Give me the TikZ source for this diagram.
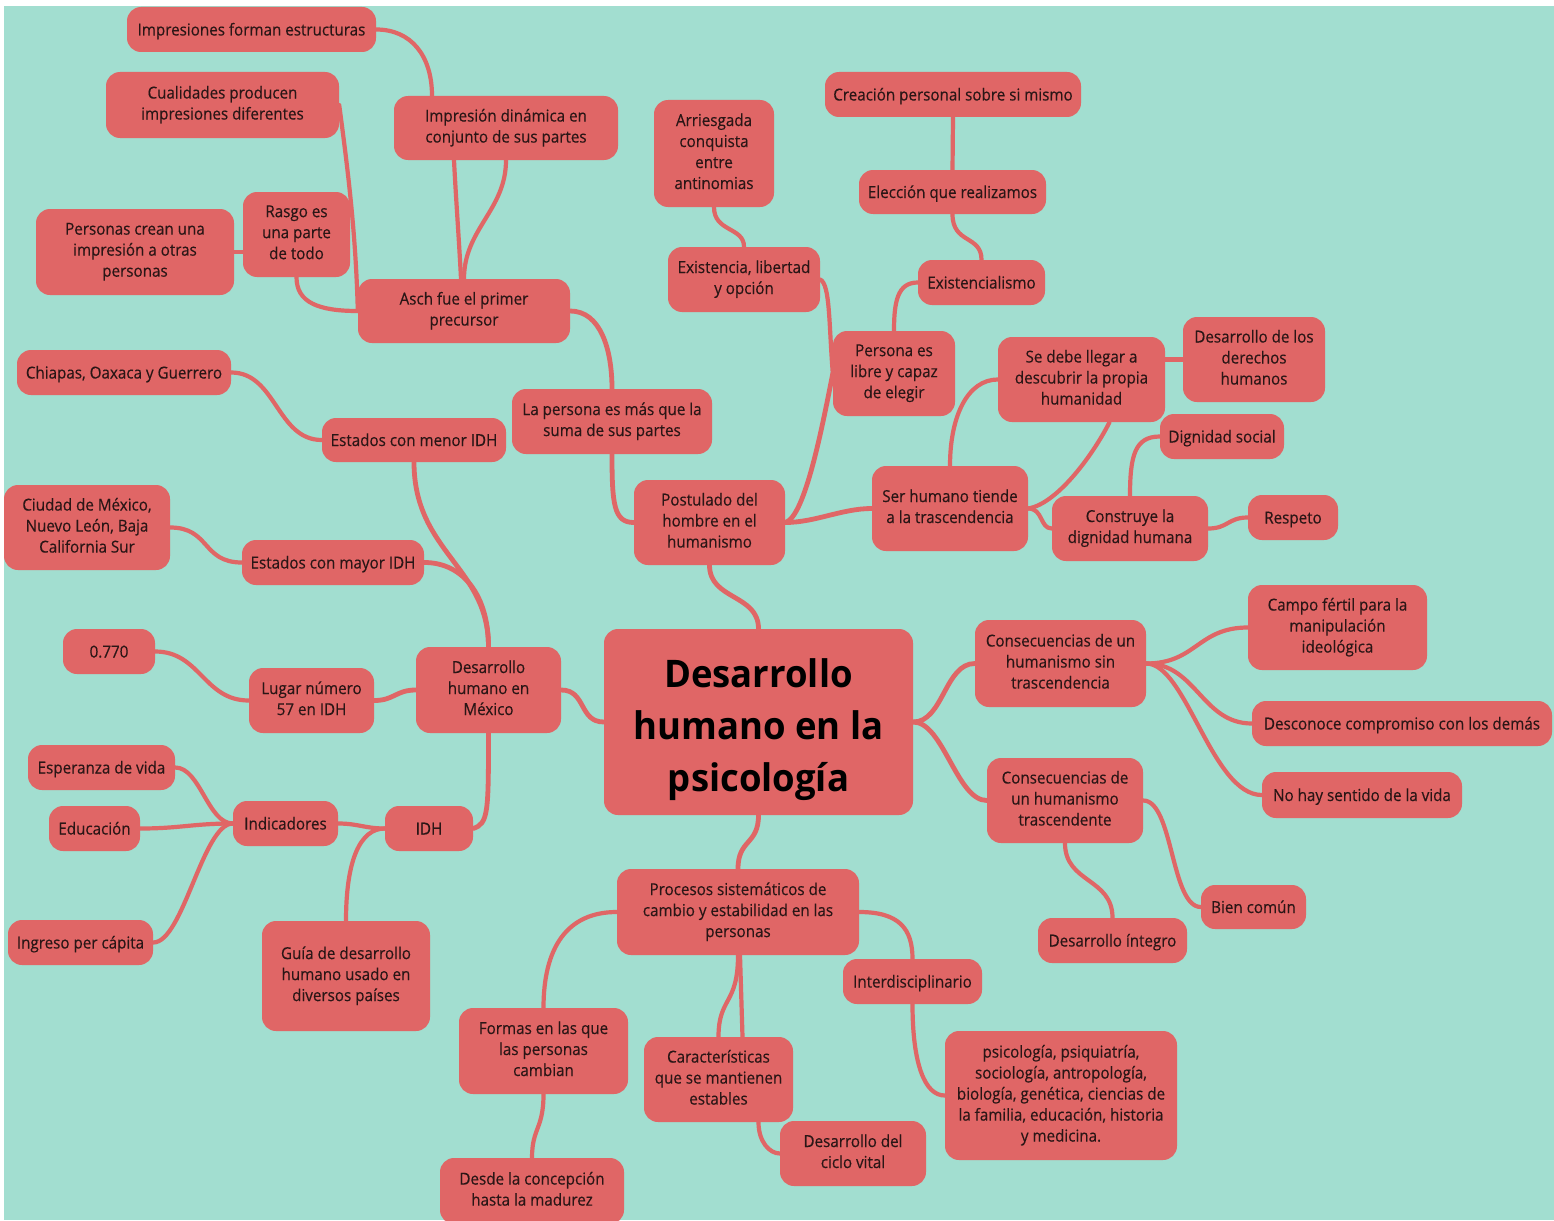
\documentclass[tikz,border=0pt]{standalone}
\usepackage{fontspec}
\setmainfont{Open Sans}[FakeStretch=0.92,FakeBold=0.3]
\newfontfamily\titlefont{Open Sans}[FakeStretch=0.96]
\usetikzlibrary{calc}
\definecolor{bgteal}{HTML}{A2DED0}
\definecolor{nodefill}{HTML}{E06666}
\definecolor{txt}{HTML}{2A1616}
\pgfdeclarelayer{bglayer}
\pgfdeclarelayer{edgelayer}
\pgfsetlayers{bglayer,edgelayer,main}
\begin{document}
\begin{tikzpicture}[x=1pt,y=-1pt,
  nd/.style 2 args={fill=nodefill, text=txt, rounded corners=14pt, align=center, inner sep=0pt,
    minimum width=#1pt, minimum height=#2pt, font=\fontsize{16.5}{21}\selectfont,
    execute at begin node={\rule{0pt}{16.5pt}}, execute at end node={\rule[-4.5pt]{0pt}{0pt}}},
  title/.style={fill=nodefill, text=black, rounded corners=14pt, align=center, inner sep=0pt,
    minimum width=309pt, minimum height=186pt, font=\titlefont\bfseries\fontsize{38}{52}\selectfont},
  edge/.style={draw=nodefill, line width=4.8pt, line cap=round},
  thin edge/.style={draw=nodefill, line width=4.2pt, line cap=round}]
\useasboundingbox (0,0) rectangle (1554,1220);
\begin{pgfonlayer}{bglayer}
\fill[white] (0,0) rectangle (1554,1220);
\fill[bgteal] (4,6) rectangle (1554,1220);
\end{pgfonlayer}

% central
\node[title] (central) at (758.5,722) {\rule{0pt}{44pt}Desarrollo\\humano en la\\psicología\rule[-9pt]{0pt}{0pt}};

% upper left
\node[nd={249}{45}] (imp) at (251.5,29.5) {Impresiones forman estructuras};
\node[nd={233}{66}] (cual) at (222.5,105) {Cualidades producen\\impresiones diferentes};
\node[nd={224}{64}] (dina) at (506,128) {Impresión dinámica en\\conjunto de sus partes};
\node[nd={107}{85}] (rasgo) at (296.5,234.5) {Rasgo es\\una parte\\de todo};
\node[nd={198}{86}] (perscrean) at (135,252) {Personas crean una\\impresión a otras\\personas};
\node[nd={212}{64}] (asch) at (464,311) {Asch fue el primer\\precursor};
\node[nd={200}{65}] (lapersona) at (612,421.5) {La persona es más que la\\suma de sus partes};

% left
\node[nd={214}{45}] (chiapas) at (124,372.5) {Chiapas, Oaxaca y Guerrero};
\node[nd={184}{44}] (menor) at (414,440) {Estados con menor IDH};
\node[nd={166}{85}] (ciudad) at (87,527.5) {Ciudad de México,\\Nuevo León, Baja\\California Sur};
\node[nd={182}{45}] (mayor) at (333,562.5) {Estados con mayor IDH};
\node[nd={92}{45}] (n0770) at (109,651.5) {0.770};
\node[nd={125}{65}] (lugar) at (311.5,700.5) {Lugar número\\57 en IDH};
\node[nd={145}{86}] (dhm) at (488.5,690) {Desarrollo\\humano en\\México};
\node[nd={147}{45}] (esper) at (101.5,767.5) {Esperanza de vida};
\node[nd={91}{45}] (educ) at (94.5,828.5) {Educación};
\node[nd={105}{45}] (indic) at (285.5,823.5) {Indicadores};
\node[nd={88}{45}] (idh) at (429,828.5) {IDH};
\node[nd={145}{45}] (ingreso) at (80.5,942.5) {Ingreso per cápita};
\node[nd={168}{110}] (guia) at (346,976) {Guía de desarrollo\\humano usado en\\diversos países};

% upper right
\node[nd={120}{107}] (arries) at (714,153.5) {Arriesgada\\conquista\\entre\\antinomias};
\node[nd={152}{65}] (exist) at (744,279.5) {Existencia, libertad\\y opción};
\node[nd={256}{45}] (creacion) at (953,94.5) {Creación personal sobre si mismo};
\node[nd={187}{44}] (eleccion) at (952.5,192) {Elección que realizamos};
\node[nd={127}{45}] (existencialismo) at (981.5,282.5) {Existencialismo};
\node[nd={122}{85}] (persona) at (894,373.5) {Persona es\\libre y capaz\\de elegir};
\node[nd={167}{85}] (sedebe) at (1081.5,379.5) {Se debe llegar a\\descubrir la propia\\humanidad};
\node[nd={142}{85}] (derechos) at (1254,359.5) {Desarrollo de los\\derechos\\humanos};
\node[nd={124}{45}] (dignidad) at (1222,436.5) {Dignidad social};
\node[nd={151}{85}] (postulado) at (709.5,522.5) {Postulado del\\hombre en el\\humanismo};
\node[nd={156}{85}] (serhumano) at (950,508.5) {Ser humano tiende\\a la trascendencia};
\node[nd={156}{65}] (construye) at (1130,528.5) {Construye la\\dignidad humana};
\node[nd={90}{45}] (respeto) at (1293,517.5) {Respeto};

% right
\node[nd={171}{87}] (conssin) at (1060.5,663.5) {Consecuencias de un\\humanismo sin\\trascendencia};
\node[nd={179}{85}] (campo) at (1337.5,627.5) {Campo fértil para la\\manipulación\\ideológica};
\node[nd={300}{45}] (desconoce) at (1402,723.5) {Desconoce compromiso con los demás};
\node[nd={200}{46}] (nohay) at (1362,795) {No hay sentido de la vida};
\node[nd={156}{85}] (constras) at (1065,800.5) {Consecuencias de\\un humanismo\\trascendente};
\node[nd={105}{44}] (bien) at (1253.5,907) {Bien común};
\node[nd={149}{45}] (integro) at (1112.5,940.5) {Desarrollo íntegro};

% bottom
\node[nd={242}{86}] (procesos) at (738,912) {Procesos sistemáticos de\\cambio y estabilidad en las\\personas};
\node[nd={139}{45}] (interd) at (912.5,981.5) {Interdisciplinario};
\node[nd={169}{86}] (formas) at (543.5,1051) {Formas en las que\\las personas\\cambian};
\node[nd={149}{85}] (caract) at (718.5,1079.5) {Características\\que se mantienen\\estables};
\node[nd={232}{129}] (psico) at (1061,1095.5) {psicología, psiquiatría,\\sociología, antropología,\\biología, genética, ciencias de\\la familia, educación, historia\\y medicina.};
\node[nd={146}{65}] (ciclo) at (853,1153.5) {Desarrollo del\\ciclo vital};
\node[nd={184}{66}] (desde) at (532,1191) {Desde la concepción\\hasta la madurez};

\begin{pgfonlayer}{edgelayer}
% from central
\draw[edge] (postulado.south) .. controls +(0,35) and +(0,-35) .. (central.north);
\draw[edge] (dhm.east) .. controls +(25,0) and +(-25,0) .. (central.west);
\draw[edge] (central.east) .. controls +(30,0) and +(-30,0) .. (conssin.west);
\draw[edge] (central.east) .. controls +(30,0) and +(-30,0) .. (constras.west);
\draw[edge] (central.south) .. controls +(0,30) and +(0,-30) .. (procesos.north);
% upper left branch
\draw[edge] (lapersona.south) .. controls +(0,50) and +(-20,0) .. (postulado.west);
\draw[edge] (asch.east) .. controls +(30,0) and +(0,-40) .. (lapersona.north);
\draw[thin edge] ($(asch.north)+(-3,0)$) .. controls +(-2,-40) and +(2,40) .. ($(dina.south)+(-52,0)$);
\draw[thin edge] (asch.north) .. controls +(0,-50) and +(0,50) .. (dina.south);
\draw[thin edge] (imp.east) .. controls +(35,0) and +(0,-40) .. ($(dina.north)+(-74,0)$);
\draw[thin edge] (cual.east) .. controls +(8,60) and +(-2,-80) .. (asch.west);
\draw[thin edge] (rasgo.south) .. controls +(0,25) and +(-40,0) .. (asch.west);
\draw[thin edge] (perscrean.east) -- (perscrean.east -| rasgo.west);
% left branch
\draw[edge] (menor.south) .. controls +(0,90) and +(0,-80) .. (dhm.north);
\draw[edge] (mayor.east) .. controls +(40,0) and +(0,-50) .. (dhm.north);
\draw[edge] (lugar.east) .. controls +(20,0) and +(-20,0) .. (dhm.west);
\draw[edge] (dhm.south) .. controls +(0,80) and +(15,-5) .. (idh.east);
\draw[thin edge] (chiapas.east) .. controls +(45,0) and +(-45,0) .. (menor.west);
\draw[thin edge] (ciudad.east) .. controls +(40,0) and +(-40,0) .. (mayor.west);
\draw[thin edge] (n0770.east) .. controls +(45,0) and +(-45,0) .. (lugar.west);
\draw[thin edge] (indic.east) .. controls +(20,0) and +(-20,0) .. (idh.west);
\draw[thin edge] (guia.north) .. controls +(0,-60) and +(-25,0) .. (idh.west);
\draw[thin edge] (esper.east) .. controls +(25,0) and +(-25,0) .. (indic.west);
\draw[thin edge] (educ.east) .. controls +(40,0) and +(-40,0) .. (indic.west);
\draw[thin edge] (ingreso.east) .. controls +(30,0) and +(-30,0) .. (indic.west);
% upper right branch
\draw[thin edge] (exist.east) .. controls +(10,5) and +(-4,-50) .. (persona.west);
\draw[edge] (postulado.east) .. controls +(20,-5) and +(-10,50) .. (persona.west);
\draw[thin edge] (persona.north) .. controls +(0,-30) and +(-20,0) .. (existencialismo.west);
\draw[thin edge] (eleccion.south) .. controls +(0,30) and +(0,-25) .. (existencialismo.north);
\draw[thin edge] (creacion.south) -- (eleccion.north);
\draw[thin edge] (arries.south) .. controls +(0,25) and +(0,-20) .. (exist.north);
\draw[edge] (postulado.east) .. controls +(30,0) and +(-30,0) .. (serhumano.west);
\draw[thin edge] (serhumano.north) .. controls +(0,-50) and +(-30,0) .. (sedebe.west);
\draw[thin edge] (serhumano.east) .. controls +(30,-5) and +(-15,30) .. ($(sedebe.south)+(28,0)$);
\draw[thin edge] (serhumano.east) .. controls +(15,0) and +(-12,0) .. (construye.west);
\draw[thin edge] (construye.north) .. controls +(0,-40) and +(-25,0) .. (dignidad.west);
\draw[thin edge] (construye.east) .. controls +(20,0) and +(-20,0) .. (respeto.west);
\draw[thin edge] (sedebe.east |- derechos.west) -- (derechos.west);
% right branch
\draw[thin edge] (conssin.east) .. controls +(50,0) and +(-50,0) .. (campo.west);
\draw[thin edge] (conssin.east) .. controls +(50,0) and +(-50,0) .. (desconoce.west);
\draw[thin edge] (conssin.east) .. controls +(40,0) and +(-50,0) .. (nohay.west);
\draw[thin edge] (constras.east) .. controls +(30,0) and +(-30,0) .. (bien.west);
\draw[thin edge] (constras.south) .. controls +(0,40) and +(0,-40) .. (integro.north);
% bottom branch
\draw[thin edge] (procesos.west) .. controls +(-50,0) and +(0,-60) .. (formas.north);
\draw[thin edge] ($(procesos.south)+(2,0)$) -- ($(caract.north)+(24,0)$);
\draw[thin edge] (procesos.south) .. controls +(0,50) and +(0,-40) .. (caract.north);
\draw[thin edge] (procesos.east) .. controls +(40,0) and +(0,-30) .. (interd.north);
\draw[thin edge] (interd.south) .. controls +(0,60) and +(-20,0) .. (psico.west);
\draw[thin edge] ($(caract.south)+(40,0)$) .. controls +(0,20) and +(-10,0) .. (ciclo.west);
\draw[thin edge] (formas.south) .. controls +(0,35) and +(0,-30) .. (desde.north);
\end{pgfonlayer}
\end{tikzpicture}
\end{document}
